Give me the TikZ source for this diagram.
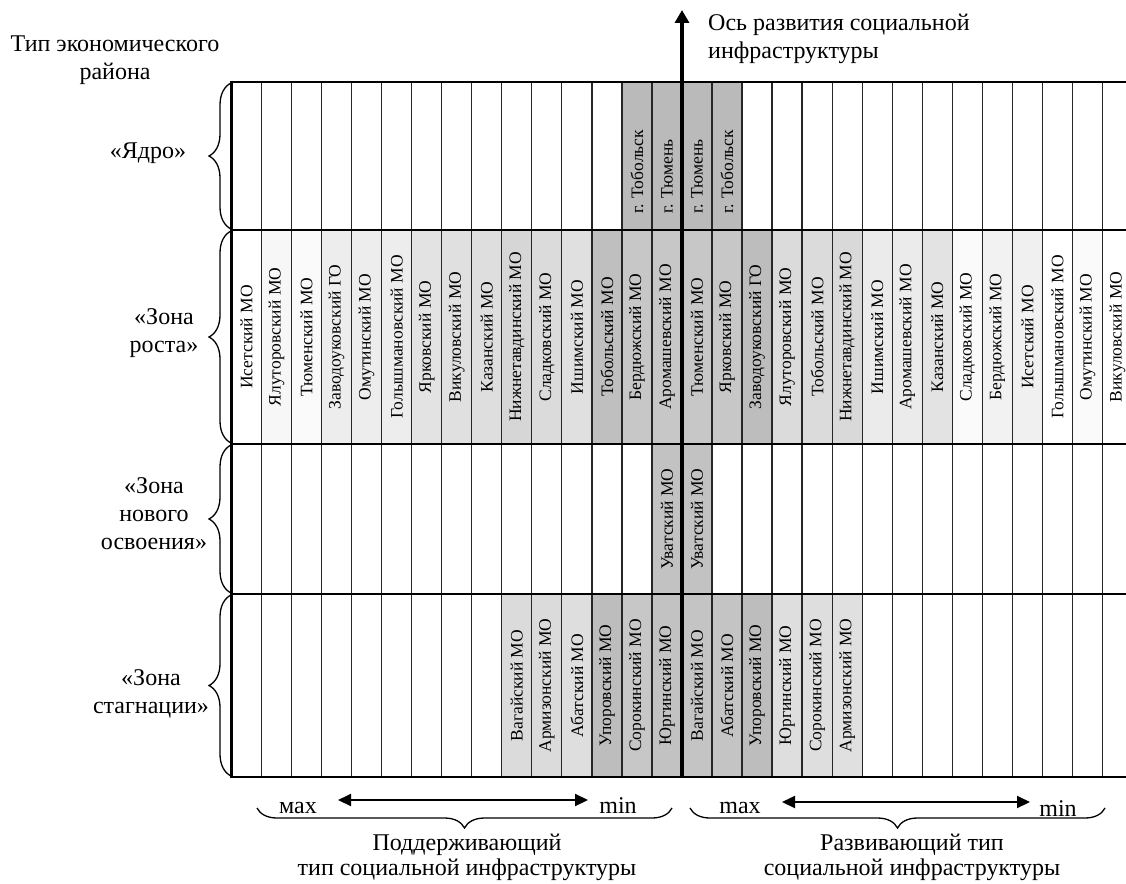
\documentclass[tikz,border=0pt]{standalone}
\usepackage{fontspec}
\setmainfont{Liberation Serif}
\usetikzlibrary{decorations.pathreplacing,arrows.meta}
\begin{document}
\begin{tikzpicture}[x=1pt,y=-1pt,
  lbl/.style={font=\fontsize{24}{28}\selectfont, align=center, inner sep=0pt},
  blbl/.style={font=\fontsize{24}{25}\selectfont, align=center, inner sep=0pt},
  celltext/.style={rotate=90, font=\fontsize{17.5}{18}\selectfont, inner sep=0pt},
  thinline/.style={line width=1.3pt, black!85},
  rowline/.style={line width=2.8pt, black},
  axisline/.style={line width=3.4pt, black, -{Triangle[width=14pt,length=13pt]}},
  dblarrow/.style={line width=2pt, black, {Triangle[width=12pt,length=13pt]}-{Triangle[width=12pt,length=13pt]}},
  rowbrace/.style={decorate, decoration={brace, amplitude=22pt}, line width=1.3pt},
  botbrace/.style={decorate, decoration={brace, mirror, amplitude=20pt}, line width=1.3pt},
]
\useasboundingbox (0,0) rectangle (1126,883);
\clip (0,0) rectangle (1126,883);

% shaded cells with labels: side (0 left,1 right) / column / row / shade / text
\foreach \s/\c/\r/\sh/\t in {
  0/13/0/27/{г. Тобольск}, 0/14/0/27/{г. Тюмень},
  1/0/0/27/{г. Тюмень}, 1/1/0/27/{г. Тобольск},
  0/0/1/0/{Исетский МО}, 0/1/1/3/{Ялуторовский МО}, 0/2/1/2/{Тюменский МО},
  0/3/1/7/{Заводоуковский ГО}, 0/4/1/7/{Омутинский МО}, 0/5/1/7/{Голышмановский МО},
  0/6/1/11/{Ярковский МО}, 0/7/1/12/{Викуловский МО}, 0/8/1/13/{Казанский МО},
  0/9/1/16/{Нижнетавдинский МО}, 0/10/1/14/{Сладковский МО}, 0/11/1/12/{Ишимский МО},
  0/12/1/25/{Тобольский МО}, 0/13/1/22/{Бердюжский МО}, 0/14/1/22/{Аромашевский МО},
  1/0/1/22/{Тюменский МО}, 1/1/1/22/{Ярковский МО}, 1/2/1/26/{Заводоуковский ГО},
  1/3/1/14/{Ялуторовский МО}, 1/4/1/14/{Тобольский МО}, 1/5/1/15/{Нижнетавдинский МО},
  1/6/1/8/{Ишимский МО}, 1/7/1/8/{Аромашевский МО}, 1/8/1/11/{Казанский МО},
  1/9/1/2/{Сладковский МО}, 1/10/1/5/{Бердюжский МО}, 1/11/1/6/{Исетский МО},
  1/12/1/0/{Голышмановский МО}, 1/13/1/2/{Омутинский МО}, 1/14/1/0/{Викуловский МО},
  0/14/2/24/{Уватский МО}, 1/0/2/24/{Уватский МО},
  0/9/3/14/{Вагайский МО}, 0/10/3/14/{Армизонский МО}, 0/11/3/13/{Абатский МО},
  0/12/3/26/{Упоровский МО}, 0/13/3/22/{Сорокинский МО}, 0/14/3/24/{Юргинский МО},
  1/0/3/23/{Вагайский МО}, 1/1/3/23/{Абатский МО}, 1/2/3/26/{Упоровский МО},
  1/3/3/13/{Юргинский МО}, 1/4/3/13/{Сорокинский МО}, 1/5/3/12/{Армизонский МО}}{
  \pgfmathsetmacro\xa{231.5+\s*450.5+\c*30.03}
  \pgfmathsetmacro\xb{\xa+30.03}
  \pgfmathsetmacro\xc{\xa+15.015}
  \pgfmathsetmacro\yt{{82,230,444,594}[\r]}
  \pgfmathsetmacro\yb{{230,444,594,777}[\r]}
  \pgfmathsetmacro\ym{(\yt+\yb)/2}
  \fill[black!\sh] (\xa,\yt) rectangle (\xb,\yb);
  \ifnum\r=0
    \node[celltext, anchor=west] (cell-\s-\r-\c) at (\xc,214) {\t};
  \else
    \node[celltext] (cell-\s-\r-\c) at (\xc,\ym) {\t};
  \fi
}

% thin column lines
\foreach \i in {1,...,14}{
  \draw[thinline] (231.5+\i*30.03,82) -- (231.5+\i*30.03,777);
  \draw[thinline] (682+\i*30.03,82) -- (682+\i*30.03,777);
}
% row lines and frame
\foreach \y in {82,230,444,594}{
  \draw[rowline] (230.1,\y) -- (1130,\y);
}
\draw[line width=2.4pt] (230.3,777) -- (1130,777);
\draw[rowline] (231.5,80.6) -- (231.5,778.2);

% axis of development
\coordinate (axb) at (682,778);
\coordinate (axt) at (682,10);
\draw[axisline] (axb) -- (axt);
\node[lbl, align=left, anchor=west] (axlbl) at (708,39) {Ось развития социальной\\инфраструктуры};

% left title and row labels
\node[lbl] (ttl) at (115,60) {Тип экономического\\района};
\node[lbl] (r0) at (148,153) {«Ядро»};
\node[lbl] (r1) at (164,333) {«Зона\\роста»};
\node[lbl] (r2) at (154,514) {«Зона\\нового\\освоения»};
\node[lbl] (r3) at (151,694) {«Зона\\стагнации»};

% row braces
\foreach \a/\b/\n in {82/230/0,230/444/1,444/594/2,594/777/3}{
  \coordinate (bt\n) at (231,\a+1);
  \coordinate (bb\n) at (231,\b-1);
  \draw[rowbrace] (bb\n) -- (bt\n);
}

% bottom: left part
\node[blbl, anchor=base] (mx1) at (298,813) {мах};
\node[blbl, anchor=base] (mn1) at (618,813) {min};
\coordinate (la1) at (338,800);
\coordinate (la2) at (588,800);
\draw[dblarrow] (la1) -- (la2);
\coordinate (lb1) at (257,808);
\coordinate (lb2) at (672,808);
\draw[botbrace] (lb1) -- (lb2);
\node[blbl] (sup) at (467,857) {Поддерживающий\\тип социальной инфраструктуры};

% bottom: right part
\node[blbl, anchor=base] (mx2) at (740,813) {max};
\node[blbl, anchor=base] (mn2) at (1058,816) {min};
\coordinate (ra1) at (782,802);
\coordinate (ra2) at (1030,802);
\draw[dblarrow] (ra1) -- (ra2);
\coordinate (rb1) at (690,808);
\coordinate (rb2) at (1105,808);
\draw[botbrace] (rb1) -- (rb2);
\node[blbl] (dev) at (912,857) {Развивающий тип\\социальной инфраструктуры};
\end{tikzpicture}
\end{document}
